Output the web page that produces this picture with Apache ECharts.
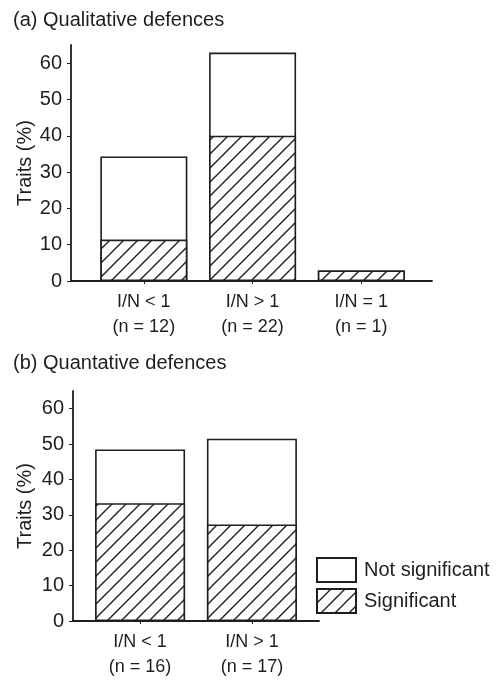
<!DOCTYPE html>
<html>
<head>
<meta charset="utf-8">
<script src="https://cdn.jsdelivr.net/npm/echarts@6/dist/echarts.min.js"></script>
<style>html,body{margin:0;padding:0;background:#fff}#c{width:497px;height:680px}</style>
</head>
<body>
<div id="c"></div>
<script>
// Panel (a) Qualitative defences
const catsA = ['I/N < 1\n(n = 12)', 'I/N > 1\n(n = 22)', 'I/N = 1\n(n = 1)'];
const sigA = [11.4, 40.0, 2.9];
const notSigA = [22.9, 22.9, 0];
// Panel (b) Quantative defences
const catsB = ['I/N < 1\n(n = 16)', 'I/N > 1\n(n = 17)'];
const sigB = [33.3, 27.3];
const notSigB = [15.2, 24.2];
const yTicks = [0, 10, 20, 30, 40, 50, 60];

const INK = '#1e1e1e';
const FONT = 'Liberation Sans, Arial, Helvetica, sans-serif';

function hatch() {
  const s = 14;
  const c = document.createElement('canvas');
  c.width = s; c.height = s;
  const g = c.getContext('2d');
  g.fillStyle = '#fff'; g.fillRect(0, 0, s, s);
  g.strokeStyle = INK; g.lineWidth = 1.4;
  g.beginPath();
  g.moveTo(-s / 2, s / 2); g.lineTo(s / 2, -s / 2);
  g.moveTo(-1, s + 1); g.lineTo(s + 1, -1);
  g.moveTo(s / 2, s * 1.5); g.lineTo(s * 1.5, s / 2);
  g.stroke();
  return c;
}
const hatchFill = { image: hatch(), repeat: 'repeat' };

function toXY(arr) { return arr.map((v, i) => [i, v]); }
// stacked total: significant part + not-significant part
function totals(sig, ns) { return sig.map((v, i) => v + ns[i]); }

function xAx(gridIndex, min, max, cats) {
  const idx = cats.map((_, i) => i);
  return {
    type: 'value', gridIndex, min, max,
    splitLine: { show: false },
    axisLine: { show: true, onZero: false, lineStyle: { color: INK, width: 1.8 } },
    axisTick: { show: true, customValues: idx, length: 3, lineStyle: { color: INK, width: 1 } },
    axisLabel: {
      customValues: idx, formatter: v => cats[Math.round(v)] || '',
      fontSize: 18, lineHeight: 25, margin: 9, color: INK, fontFamily: FONT
    }
  };
}
function yAx(gridIndex, gap) {
  return {
    type: 'value', gridIndex, min: 0, max: 65,
    name: 'Traits (%)', nameLocation: 'middle', nameGap: gap, nameMoveOverlap: false,
    nameTextStyle: { fontSize: 20, color: INK, fontFamily: FONT },
    splitLine: { show: false },
    axisLine: { show: true, onZero: false, lineStyle: { color: INK, width: 1.8 } },
    axisTick: { show: true, customValues: yTicks, length: 4, lineStyle: { color: INK, width: 1 } },
    axisLabel: { customValues: yTicks, fontSize: 20, margin: 9, color: INK, fontFamily: FONT }
  };
}
function bar(name, data, xi, fill, bw) {
  return {
    type: 'bar', name, data: toXY(data), xAxisIndex: xi, yAxisIndex: xi,
    barWidth: bw, barGap: '-100%',
    itemStyle: { color: fill, borderColor: INK, borderWidth: 1.6 },
    emphasis: { disabled: true }, animation: false
  };
}

const chart = echarts.init(document.getElementById('c'), null, { renderer: 'canvas' });
chart.setOption({
  animation: false,
  textStyle: { fontFamily: FONT },
  title: [
    { text: '(a) Qualitative defences', left: 13, top: 10, padding: 0,
      textStyle: { fontSize: 20, fontWeight: 'normal', color: INK, fontFamily: FONT } },
    { text: '(b) Quantative defences', left: 13, top: 353, padding: 0,
      textStyle: { fontSize: 20, fontWeight: 'normal', color: INK, fontFamily: FONT } }
  ],
  grid: [
    { left: 71, right: 65, top: 45, height: 236 },
    { left: 73, right: 178, top: 391, height: 235 }
  ],
  xAxis: [xAx(0, -0.67, 2.65, catsA), xAx(1, -0.6, 1.6, catsB)],
  yAxis: [yAx(0, 36), yAx(1, 38)],
  legend: {
    orient: 'vertical', left: 316, top: 557, padding: 0,
    itemWidth: 39, itemHeight: 24, itemGap: 5, icon: 'rect',
    data: ['Not significant', 'Significant'],
    selectedMode: false,
    textStyle: { fontSize: 20, color: INK, fontFamily: FONT, padding: [0, 0, 0, 3] }
  },
  series: [
    bar('Not significant', totals(sigA, notSigA), 0, '#fff', 87),
    bar('Significant', sigA, 0, hatchFill, 87),
    bar('Not significant', totals(sigB, notSigB), 1, '#fff', 90),
    bar('Significant', sigB, 1, hatchFill, 90)
  ]
});
</script>
</body>
</html>
